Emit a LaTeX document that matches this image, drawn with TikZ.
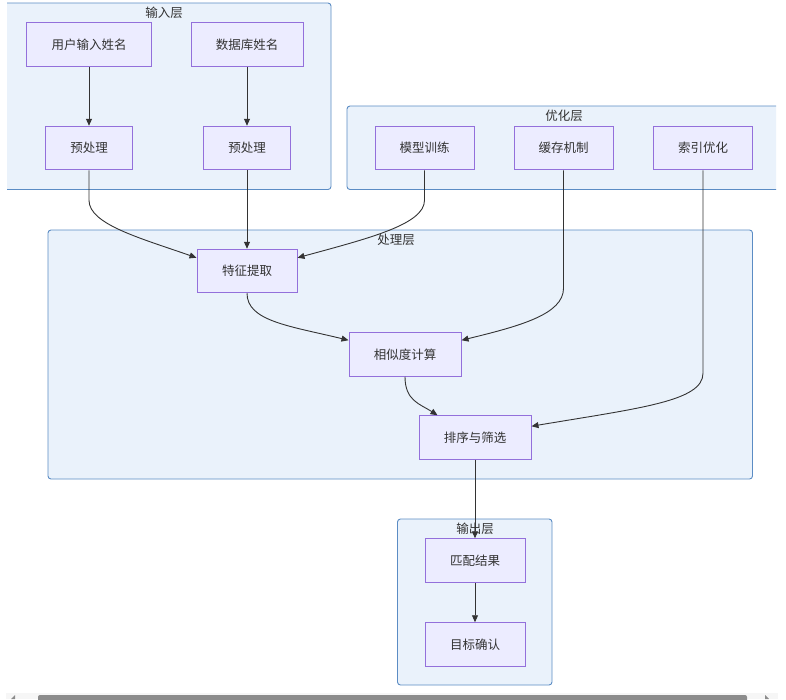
\documentclass[tikz,border=0pt]{standalone}
\usepackage{fontspec}
\newfontfamily\cjk{Noto Sans CJK SC}
\usetikzlibrary{arrows.meta,calc}
\definecolor{nodefill}{HTML}{ECECFF}
\definecolor{nodeline}{HTML}{9370DB}
\definecolor{clfill}{HTML}{EAF2FB}
\definecolor{clline}{HTML}{5B8CC4}
\definecolor{txt}{HTML}{333333}
\definecolor{trackc}{HTML}{F6F6F6}
\definecolor{thumbc}{HTML}{8C8C8C}
\tikzset{
  box/.style={draw=nodeline, fill=nodefill, line width=1pt, minimum height=43.5pt,
    inner xsep=0pt, inner ysep=0pt, text=txt, font=\cjk\fontsize{12.5}{14}\selectfont},
  cluster/.style={draw=clline, fill=clfill, line width=0.9pt, rounded corners=3pt},
  cltitle/.style={text=txt, font=\cjk\fontsize{12.5}{14}\selectfont, inner sep=0pt},
  conn/.style={draw=txt, line width=0.9pt, -{Triangle[length=7pt,width=6pt]}},
}
\begin{document}
\begin{tikzpicture}[x=1pt,y=-1pt]
\useasboundingbox (0,0) rectangle (786,699);
\fill[white] (0,0) rectangle (786,699);
% clusters
\begin{scope}
\clip (7,0) rectangle (776,699);
\draw[cluster] (-10,3) rectangle (331,189.5);
\draw[cluster] (347,106) rectangle (795,189.5);
\end{scope}
\draw[cluster] (48,230) rectangle (752.5,479);
\draw[cluster] (397.5,519) rectangle (552,685);
\node[cltitle] (t1) at (164,12.5) {输入层};
\node[cltitle] (t2) at (564,116) {优化层};
\node[cltitle] (t3) at (396,240) {处理层};
\node[cltitle] (t4) at (475,529) {输出层};
% nodes
\node[box, minimum width=125pt] (u) at (89,44.5) {用户输入姓名};
\node[box, minimum width=112pt] (d) at (247,44.5) {数据库姓名};
\node[box, minimum width=87pt] (p1) at (89,148) {预处理};
\node[box, minimum width=87pt] (p2) at (247,148) {预处理};
\node[box, minimum width=99pt] (mt) at (424.5,148) {模型训练};
\node[box, minimum width=99pt] (cj) at (563.5,148) {缓存机制};
\node[box, minimum width=99pt] (sy) at (703,148) {索引优化};
\node[box, minimum width=100pt] (fe) at (247,271) {特征提取};
\node[box, minimum width=112pt] (sim) at (405,354.5) {相似度计算};
\node[box, minimum width=112pt] (srt) at (475,437.5) {排序与筛选};
\node[box, minimum width=100pt] (m) at (475,560.5) {匹配结果};
\node[box, minimum width=100pt] (g) at (475,644.5) {目标确认};
% connectors
\draw[conn] (u.south) -- (p1.north);
\draw[conn] (d.south) -- (p2.north);
\draw[conn] (p2.south) -- (fe.north);
\draw[conn] (p1.south) -- ++(0,30) .. controls +(0,24) and (140,238) .. ($(fe.north west)+(0,9)$);
\draw[conn] (mt.south) -- ++(0,30) .. controls +(0,24) and (370,238) .. ($(fe.north east)+(0,9)$);
\draw[conn] (cj.south) -- ++(0,118) .. controls +(0,26) and (520,326) .. ($(sim.north east)+(0,8)$);
\draw[conn] (sy.south) -- ++(0,203) .. controls +(0,28) and (640,408) .. ($(srt.north east)+(0,11)$);
\draw[conn] (fe.south) .. controls +(0,28) and (290,326) .. ($(sim.north west)+(0,8)$);
\draw[conn] (sim.south) .. controls +(0,24) and (420,404) .. ($(srt.north west)+(19,0)$);
\draw[conn] (srt.south) -- (m.north);
\draw[conn] (m.south) -- (g.north);
% scrollbar
\fill[trackc] (6,693) rectangle (778,699);
\fill[thumbc, rounded corners=2pt] (38,695) rectangle (747,703);
\fill[thumbc] (11,699) -- (15,695) -- (15,699) -- cycle;
\fill[thumbc] (765,695) -- (769,699) -- (765,699) -- cycle;
\end{tikzpicture}
\end{document}
